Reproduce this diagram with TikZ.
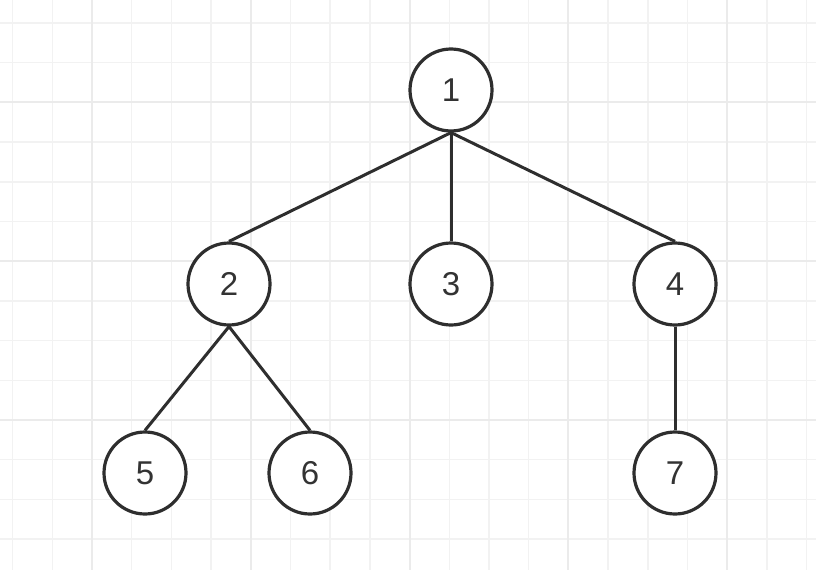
\documentclass[tikz,border=0pt]{standalone}
\usepackage{fontspec}
\setmainfont{Liberation Sans}
\colorlet{gridMinor}{black!5}
\colorlet{gridMajor}{black!8}
\colorlet{treeLine}{black!82}
\begin{document}
\begin{tikzpicture}[x=1pt, y=-1pt,
    vertex/.style={circle, draw=treeLine, line width=3.2pt, minimum size=82pt,
      inner sep=0pt, fill=white, text=black!80,
      font=\fontsize{33}{33}\selectfont},
    branch/.style={treeLine, line width=3pt}]
  \useasboundingbox[fill=white] (0,0) rectangle (816,570);
  % background grid
  \foreach \k in {0,...,20}
    \draw[gridMinor, line width=1.5pt] (12.6+39.7*\k,0) -- (12.6+39.7*\k,570);
  \foreach \k in {0,...,13}
    \draw[gridMinor, line width=1.5pt] (0,23+39.7*\k) -- (816,23+39.7*\k);
  \foreach \k in {0,...,4}
    \draw[gridMajor, line width=2pt] (92+158.8*\k,0) -- (92+158.8*\k,570);
  \foreach \k in {0,...,2}
    \draw[gridMajor, line width=2pt] (0,102+158.8*\k) -- (816,102+158.8*\k);
  % tree
  \node[vertex] (n1) at (451,90) {1};
  \node[vertex] (n2) at (229,284) {2};
  \node[vertex] (n3) at (451,284) {3};
  \node[vertex] (n4) at (675,284) {4};
  \node[vertex] (n5) at (145,473) {5};
  \node[vertex] (n6) at (310,473) {6};
  \node[vertex] (n7) at (675,473) {7};
  \foreach \a/\b in {n1/n2, n1/n3, n1/n4, n2/n5, n2/n6, n4/n7}
    \draw[branch] (\a.south) -- (\b.north);
\end{tikzpicture}
\end{document}
